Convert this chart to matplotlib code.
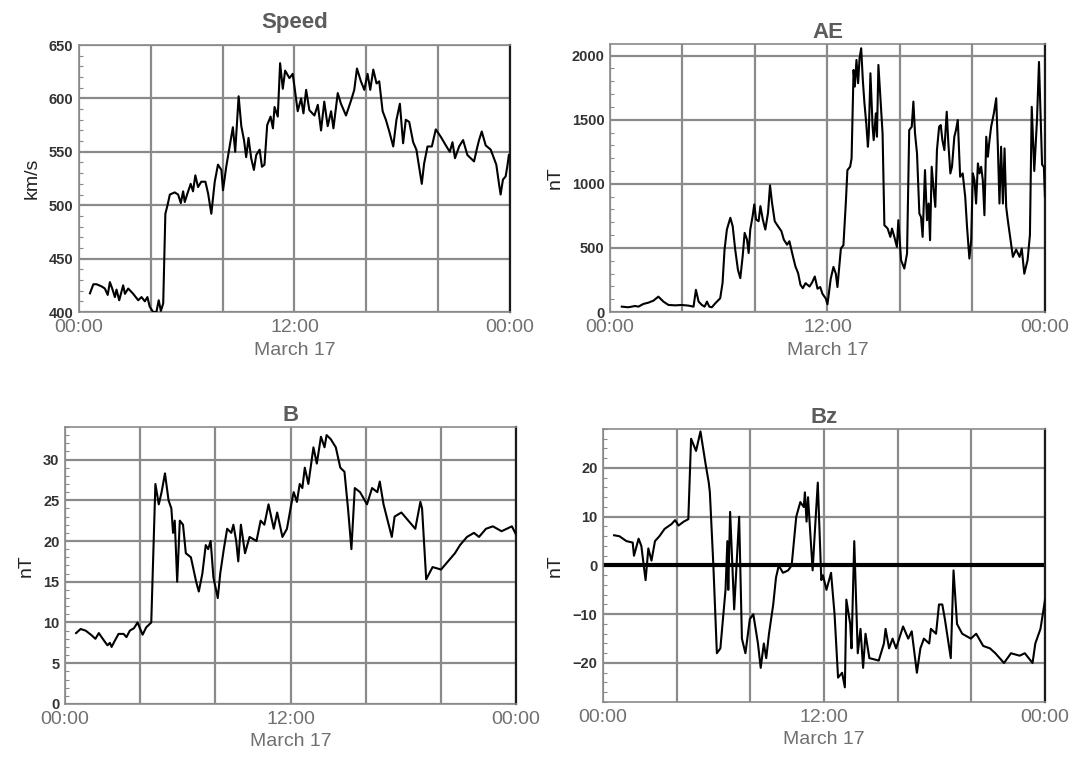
import matplotlib
matplotlib.use("Agg")
import matplotlib.pyplot as plt
from matplotlib.ticker import MultipleLocator

plt.rcParams["font.family"] = ["Liberation Sans", "DejaVu Sans"]

# hours after 00:00 UT, March 17
SPEED_T = [0.61, 0.8, 0.98, 1.26, 1.44, 1.6, 1.72, 1.85, 2.0, 2.09, 2.24, 2.46, 2.56, 2.74, 3.02,
           3.3, 3.48, 3.67, 3.81, 3.94, 4.13, 4.31, 4.44, 4.56, 4.69, 4.81, 4.93, 5.06, 5.33, 5.52,
           5.67, 5.8, 5.89, 6.04, 6.22, 6.35, 6.48, 6.63, 6.81, 7.04, 7.19, 7.37, 7.56, 7.74, 7.93,
           8.02, 8.2, 8.39, 8.57, 8.7, 8.89, 9.04, 9.19, 9.31, 9.44, 9.59, 9.74, 9.87, 10.06, 10.19,
           10.33, 10.48, 10.67, 10.8, 10.89, 11.07, 11.2, 11.35, 11.48, 11.72, 11.9, 12.0, 12.18,
           12.37, 12.5, 12.65, 12.83, 13.11, 13.3, 13.48, 13.66, 13.85, 14.04, 14.17, 14.41, 14.59,
           14.87, 15.15, 15.33, 15.48, 15.7, 15.89, 16.07, 16.22, 16.39, 16.57, 16.72, 16.91, 17.09,
           17.28, 17.5, 17.68, 17.87, 18.05, 18.2, 18.39, 18.61, 18.79, 18.94, 19.09, 19.22, 19.41,
           19.65, 19.87, 20.15, 20.43, 20.65, 20.8, 20.94, 21.17, 21.39, 21.63, 22.0, 22.19, 22.28,
           22.43, 22.65, 22.93, 23.11, 23.24, 23.39, 23.48, 23.61, 23.76, 23.85, 23.94]
SPEED_V = [417.5, 426, 426, 424, 422, 416, 428, 422, 414, 421, 411, 425, 417, 422, 417,
           411, 414, 410, 414, 405, 400, 400, 411, 401, 408, 492, 500, 510, 512, 510,
           502, 513, 503, 511, 520, 513, 528, 517, 522, 522, 511, 492, 522, 538, 533,
           514, 536, 555, 573, 550, 602, 574, 561, 545, 563, 544, 533, 547, 552, 536,
           538, 575, 583, 572, 592, 583, 633, 609, 626, 619, 623, 611, 588,
           600, 586, 608, 589, 584, 594, 570, 597, 574, 588, 572, 605, 595,
           584, 598, 608, 628, 616, 608, 623, 608, 627, 614, 616, 588, 580,
           569, 555, 580, 595, 558, 580, 578, 559, 552, 536, 520, 539, 555,
           555, 571, 564, 556, 550, 559, 544, 555, 561, 547, 541, 555, 561,
           569, 556, 552, 544, 538, 520, 510, 524, 527, 536, 547]

AE_T = [0.65, 1.01, 1.38, 1.57, 1.84, 2.12, 2.4, 2.67, 2.95, 3.23, 3.6, 3.96, 4.33, 4.61, 4.74,
        4.89, 5.07, 5.22, 5.35, 5.48, 5.62, 5.81, 6.08, 6.21, 6.32, 6.45, 6.64, 6.77, 6.91, 7.06,
        7.19, 7.32, 7.43, 7.56, 7.65, 7.74, 7.87, 7.96, 8.06, 8.2, 8.3, 8.43, 8.57, 8.72, 8.83,
        8.94, 9.09, 9.27, 9.46, 9.59, 9.77, 9.9, 10.05, 10.23, 10.38, 10.51, 10.64, 10.79, 11.01,
        11.15, 11.3, 11.45, 11.6, 11.72, 11.91, 12.0, 12.18, 12.33, 12.46, 12.55, 12.65, 12.74,
        12.88, 13.01, 13.1, 13.25, 13.33, 13.44, 13.51, 13.6, 13.69, 13.77, 13.86, 13.95, 14.04,
        14.14, 14.23, 14.28, 14.37, 14.49, 14.55, 14.67, 14.73, 14.81, 14.95, 15.04, 15.14, 15.32,
        15.47, 15.56, 15.69, 15.83, 15.91, 16.06, 16.24, 16.39, 16.51, 16.65, 16.74, 16.83, 16.94,
        17.07, 17.16, 17.25, 17.38, 17.49, 17.58, 17.66, 17.75, 17.86, 17.95, 18.04, 18.16, 18.25,
        18.34, 18.45, 18.58, 18.67, 18.78, 18.87, 19.0, 19.09, 19.19, 19.32, 19.46, 19.6, 19.7,
        19.83, 19.93, 20.02, 20.11, 20.2, 20.3, 20.39, 20.48, 20.57, 20.66, 20.76, 20.85, 20.94,
        21.03, 21.18, 21.31, 21.4, 21.49, 21.58, 21.68, 21.77, 21.86, 21.95, 22.1, 22.23, 22.41,
        22.6, 22.72, 22.86, 23.04, 23.17, 23.27, 23.41, 23.56, 23.67, 23.84, 23.94, 24.0]
AE_V = [42, 37, 47, 42, 63, 73, 89, 120, 81, 55, 52, 55, 50, 42, 173,
        81, 55, 42, 81, 42, 37, 68, 107, 225, 486, 643, 735, 669, 486, 329,
        264, 434, 617, 565, 460, 643, 748, 839, 722, 708, 826, 722, 643, 774, 988,
        852, 708, 669, 630, 565, 525, 552, 460, 356, 303, 212, 186, 225, 199,
        230, 277, 182, 195, 143, 104, 60, 260, 352, 299, 195, 352, 495,
        521, 846, 1107, 1133, 1198, 1888, 1758, 1966, 1784, 1979, 2057, 1810, 1628,
        1471, 1289, 1393, 1862, 1445, 1341, 1549, 1367, 1927, 1602, 1393, 677, 651,
        586, 651, 586, 508, 716, 404, 339, 456, 1419, 1445, 1641, 1393, 1237,
        768, 742, 586, 1107, 716, 846, 560, 1133, 950, 820, 1263, 1445, 1458,
        1341, 1263, 1562, 1315, 1081, 1133, 1367, 1419, 1497, 1055, 1081, 898, 664,
        417, 560, 1081, 1029, 846, 1159, 1081, 1133, 1029, 755, 1367, 1211, 1341,
        1445, 1549, 1667, 1289, 846, 1289, 846, 1276, 820, 716, 560, 430, 487,
        430, 495, 299, 404, 600, 1600, 1100, 1500, 1950, 1150, 1130, 900]

B_T = [0.59, 0.83, 1.1, 1.38, 1.62, 1.8, 2.07, 2.26, 2.39, 2.48, 2.66, 2.85, 3.12, 3.27, 3.45,
       3.67, 3.86, 4.13, 4.32, 4.59, 4.81, 4.99, 5.14, 5.32, 5.51, 5.66, 5.75, 5.84, 5.97, 6.11,
       6.28, 6.43, 6.7, 6.98, 7.12, 7.31, 7.49, 7.62, 7.75, 7.9, 8.13, 8.26, 8.45, 8.63, 8.85,
       8.96, 9.11, 9.22, 9.36, 9.58, 9.82, 10.19, 10.41, 10.61, 10.83, 11.11, 11.29, 11.57, 11.81,
       12.08, 12.17, 12.34, 12.49, 12.63, 12.76, 12.95, 13.22, 13.4, 13.62, 13.81, 13.92, 14.14,
       14.41, 14.65, 14.87, 15.06, 15.24, 15.42, 15.7, 16.07, 16.34, 16.62, 16.75, 16.95, 17.17,
       17.39, 17.54, 17.9, 18.27, 18.64, 18.91, 19.0, 19.22, 19.56, 20.01, 20.38, 20.75, 21.02,
       21.39, 21.76, 22.03, 22.4, 22.77, 23.23, 23.78, 24.0]
B_V = [8.7, 9.2, 9.0, 8.5, 8.0, 8.7, 7.8, 7.2, 7.5, 7.0, 7.8, 8.6, 8.6, 8.2, 9.0,
       9.3, 10.0, 8.5, 9.4, 10.0, 27.0, 24.5, 26.0, 28.3, 25.0, 24.0, 21.0, 22.5, 15.0, 22.5,
       22.0, 18.5, 18.0, 15.0, 13.8, 16.0, 19.5, 19.0, 20.0, 15.5, 13.0, 16.0, 19.0, 21.5, 21.0,
       22.0, 20.0, 17.5, 22.0, 18.5, 20.5, 20.0, 22.5, 22.0, 24.5, 21.5, 23.5, 20.5, 21.5,
       25.0, 26.0, 24.8, 27.0, 26.5, 29.0, 27.0, 31.5, 29.5, 32.8, 31.5, 33.0, 32.5,
       31.5, 29.0, 28.5, 24.0, 19.0, 26.5, 26.0, 24.5, 26.5, 26.0, 27.3, 24.5, 22.5,
       20.5, 23.0, 23.5, 22.5, 21.5, 24.8, 24.0, 15.3, 16.8, 16.5, 17.5, 18.5, 19.5,
       20.5, 21.0, 20.5, 21.5, 21.8, 21.2, 21.8, 20.8]

BZ_T = [0.6, 0.89, 1.27, 1.61, 1.68, 1.93, 2.08, 2.21, 2.31, 2.46, 2.63, 2.82, 3.06, 3.34, 3.72,
        3.91, 4.1, 4.38, 4.63, 4.78, 5.05, 5.29, 5.56, 5.74, 5.8, 5.99, 6.18, 6.37, 6.65, 6.75,
        6.8, 6.9, 7.12, 7.39, 7.54, 7.73, 7.97, 8.16, 8.41, 8.56, 8.73, 8.86, 9.01, 9.24, 9.39,
        9.54, 9.77, 10.05, 10.24, 10.49, 10.71, 10.9, 10.96, 11.05, 11.13, 11.38, 11.47, 11.66,
        11.85, 11.94, 12.13, 12.38, 12.57, 12.76, 12.98, 13.13, 13.21, 13.42, 13.49, 13.64, 13.83,
        13.98, 14.12, 14.25, 14.46, 14.97, 15.25, 15.34, 15.53, 15.72, 15.91, 16.29, 16.57, 16.76,
        17.04, 17.23, 17.42, 17.71, 17.8, 18.08, 18.24, 18.42, 18.56, 18.88, 19.03, 19.22, 19.5,
        19.97, 20.26, 20.64, 21.01, 21.3, 21.77, 22.15, 22.62, 22.9, 23.32, 23.47, 23.75, 24.0]
BZ_V = [6.2, 6.0, 5.0, 4.7, 2.0, 5.5, 4.0, 0.0, -3.0, 3.5, 1.0, 5.0, 6.0, 7.5, 8.5,
        9.3, 8.2, 9.0, 9.5, 26.0, 23.5, 27.5, 21.0, 17.0, 15.0, 0.0, -18.0, -17.0, -5.0, 5.0,
        -5.0, 11.0, -9.0, 10.0, -15.0, -18.0, -11.0, -10.0, -16.0, -21.0, -16.0, -19.0, -14.0, -8.0, -2.5,
        0.0, -1.5, -1.0, 0.0, 10.0, 13.0, 12.0, 15.0, 9.0, 14.0, -1.0, 5.0, 17.0,
        -3.0, -2.0, -5.0, -1.5, -10.0, -23.0, -22.0, -25.0, -7.0, -12.0, -17.0, 5.0, -18.0,
        -13.0, -21.0, -14.0, -19.0, -19.5, -16.0, -13.0, -17.0, -15.0, -17.0, -12.5, -15.0, -13.5,
        -22.0, -17.0, -15.0, -16.0, -13.0, -14.0, -8.0, -8.0, -11.0, -19.0, -1.0, -12.0, -14.0,
        -15.0, -14.0, -16.5, -17.0, -18.0, -20.0, -18.0, -18.5, -18.0, -20.0, -16.0, -13.0, -7.0]

X_TICKS = [0, 4, 8, 12, 16, 20, 24]
X_LABELS = ["00:00", "", "", "12:00", "", "", "00:00"]
X_TITLE = "March 17"

GRID = "#8a8a8a"
GREY_TXT = "#707070"

fig = plt.figure(figsize=(10.85, 7.59), dpi=100)


def panel(rect, t, v, title, ylabel, ylim, major, minor, label_x, title_pad):
    ax = fig.add_axes(rect)
    ax.plot(t, v, color="black", lw=1.5, zorder=3)
    ax.set_xlim(0, 24)
    ax.set_ylim(*ylim)
    ax.set_xticks(X_TICKS)
    ax.set_xticklabels(X_LABELS)
    ax.yaxis.set_major_locator(MultipleLocator(major))
    ax.yaxis.set_minor_locator(MultipleLocator(minor))
    ax.grid(True, which="major", color=GRID, lw=1.6)
    ax.tick_params(axis="x", length=0, pad=5, labelsize=14, labelcolor=GREY_TXT)
    ax.tick_params(axis="y", which="major", length=0, pad=4, labelsize=10.5,
                   labelcolor="#333333")
    ax.tick_params(axis="y", which="minor", direction="in", length=3, color=GRID, width=0.8)
    for lab in ax.get_yticklabels():
        lab.set_fontweight("bold")
    for side in ("left", "top", "bottom"):
        ax.spines[side].set_color(GRID)
        ax.spines[side].set_linewidth(1.2)
    ax.spines["right"].set_color("#1a1a1a")
    ax.spines["right"].set_linewidth(1.6)
    ax.set_title(title, fontsize=16, fontweight="bold", color="#5c5c5c", pad=title_pad)
    ax.set_ylabel(ylabel, fontsize=14, color="#222222")
    ax.yaxis.set_label_coords(label_x, 0.5)
    ax.set_xlabel(X_TITLE, fontsize=14, color=GREY_TXT, labelpad=4)
    return ax


panel([0.0728, 0.5889, 0.3972, 0.3518], SPEED_T, SPEED_V, "Speed", "km/s",
      (400, 650), 50, 10, -0.088, 12)
panel([0.5622, 0.5889, 0.4009, 0.3531], AE_T, AE_V, "AE", "nT",
      (0, 2090), 500, 100, -0.107, 4)
panel([0.0599, 0.0725, 0.4157, 0.365], B_T, B_V, "B", "nT",
      (0, 34), 5, 1, -0.068, 4)
ax_bz = panel([0.5558, 0.0751, 0.4074, 0.3597], BZ_T, BZ_V, "Bz", "nT",
              (-28, 28), 10, 2, -0.089, 4)
ax_bz.axhline(0, color="black", lw=3, zorder=2)

fig.savefig("out.png", dpi=100)
